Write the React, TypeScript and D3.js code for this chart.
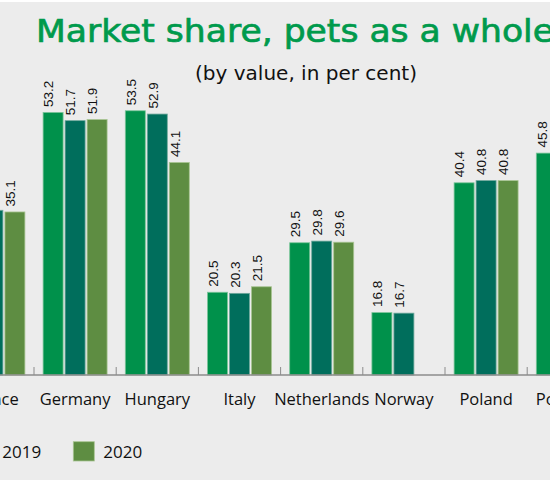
import React from "react";
import * as d3 from "d3";

const title = "Market share, pets as a whole";
const subtitle = "(by value, in per cent)";
const categories = ["France", "Germany", "Hungary", "Italy", "Netherlands", "Norway", "Poland", "Portugal"];
const years = ["2018", "2019", "2020"];
// null = not visible / not shown in the picture
const values2018: (number | null)[] = [null, 53.2, 53.5, 20.5, 29.5, 16.8, 40.4, 45.8];
const values2019: (number | null)[] = [35.4, 51.7, 52.9, 20.3, 29.8, 16.7, 40.8, null];
const values2020: (number | null)[] = [35.1, 51.9, 44.1, 21.5, 29.6, null, 40.8, null];
const seriesValues = [values2018, values2019, values2020];
const colors = ["#00914b", "#006e5c", "#5e8d42"];
const strokes = ["#7cc59a", "#6fa89c", "#a9c593"];

const W = 550;
const H = 480;
const axisY = 375;
const labelFont = "'Liberation Sans Narrow', 'Arial Narrow', 'Liberation Sans', sans-serif";

export default function App() {
  const step = 82.2;
  const x = d3
    .scaleBand<string>()
    .domain(categories)
    .range([34 - step, 34 - step + step * categories.length])
    .paddingInner(0)
    .paddingOuter(0);
  const sub = d3
    .scaleBand<string>()
    .domain(years)
    .range([9.1, 73.1])
    .paddingInner(2 / 22)
    .paddingOuter(0);
  const y = d3.scaleLinear().domain([0, 60]).range([405, 75]);

  const bars: React.ReactNode[] = [];
  const labels: React.ReactNode[] = [];
  categories.forEach((c, ci) => {
    years.forEach((yr, si) => {
      const v = seriesValues[si][ci];
      if (v == null) return;
      const bx = (x(c) as number) + (sub(yr) as number);
      const by = y(v);
      bars.push(
        <rect
          key={`b-${c}-${yr}`}
          x={bx}
          y={by}
          width={sub.bandwidth()}
          height={axisY - by}
          fill={colors[si]}
          stroke={strokes[si]}
          strokeWidth={0.8}
        />
      );
      labels.push(
        <g key={`l-${c}-${yr}`} transform={`translate(${bx + 10.3},${by - 5.5})`}>
          <text transform="rotate(-90)" x={0} y={0} fontFamily={labelFont} fontSize={13.5} fill="#111">
            {v.toFixed(1)}
          </text>
        </g>
      );
    });
  });

  const ticks = categories.map((c) => x(c) as number);

  return (
    <svg width={W} height={H} style={{ position: "absolute", left: 0, top: 0, display: "block" }}>
      <rect x={0} y={0} width={W} height={H} fill="#ececec" />
      <rect x={0} y={0} width={W} height={2} fill="#ffffff" />
      <text
        x={36}
        y={41.7}
        fontFamily="'DejaVu Sans', sans-serif"
        fontSize={32}
        fill="#009a4c"
        stroke="#009a4c"
        strokeWidth={0.7}
        textLength={518}
        lengthAdjust="spacingAndGlyphs"
      >
        {title}
      </text>
      <text
        x={195}
        y={80}
        fontFamily="'DejaVu Sans', sans-serif"
        fontSize={19}
        fill="#111"
        textLength={222}
        lengthAdjust="spacingAndGlyphs"
      >
        {subtitle}
      </text>
      {bars}
      {labels}
      <line x1={0} x2={W} y1={axisY} y2={axisY} stroke="#8c8c8c" strokeWidth={1.3} />
      {ticks.map((t, i) => (
        <line key={`t-${i}`} x1={t} x2={t} y1={axisY - 8} y2={axisY} stroke="#8c8c8c" strokeWidth={1} />
      ))}
      {categories.map((c) => (
        <text
          key={`c-${c}`}
          x={(x(c) as number) + x.bandwidth() / 2}
          y={404.5}
          textAnchor="middle"
          fontFamily="'Open Sans', sans-serif"
          fontSize={16.5}
          fill="#111"
        >
          {c}
        </text>
      ))}
      {years.map((yr, i) => {
        const lx = 73.3 - 101 * (years.length - 1 - i);
        return (
          <g key={`lg-${yr}`}>
            <rect x={lx} y={441.7} width={21} height={19.3} fill={colors[i]} stroke={strokes[i]} strokeWidth={0.8} />
            <text x={lx + 30} y={458.3} fontFamily="'Open Sans', sans-serif" fontSize={17} fill="#111">
              {yr}
            </text>
          </g>
        );
      })}
    </svg>
  );
}
